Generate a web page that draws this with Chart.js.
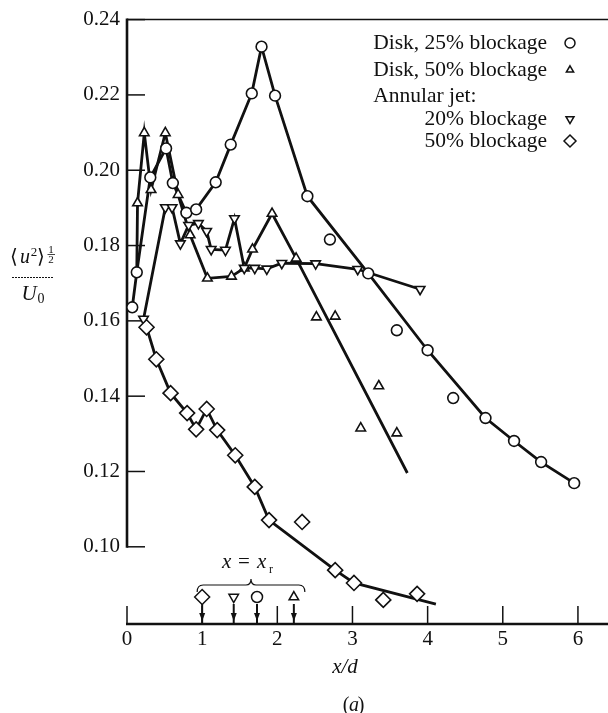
<!DOCTYPE html>
<html>
<head>
<meta charset="utf-8">
<script src="https://cdn.jsdelivr.net/npm/chart.js@4.4.1/dist/chart.umd.min.js"></script>
<style>
  html, body { margin: 0; padding: 0; background: #fff; }
  #graphe { display: block; }
</style>
</head>
<body>
<canvas id="graphe" width="608" height="713"></canvas>
<script>
// Disk, 25% blockage (circles)
const disk25X = [0.07, 0.13, 0.31, 0.52, 0.61, 0.79, 0.92, 1.18, 1.38, 1.66, 1.79, 1.97, 2.40, 2.70, 3.21, 3.59, 4.00, 4.34, 4.77, 5.15, 5.51, 5.95];
const disk25Y = [0.1636, 0.1729, 0.1981, 0.2058, 0.1966, 0.1887, 0.1896, 0.1968, 0.2068, 0.2204, 0.2328, 0.2198, 0.1931, 0.1816, 0.1726, 0.1575, 0.1522, 0.1395, 0.1342, 0.1281, 0.1225, 0.1169];
const disk25CurveX = [0.07, 0.13, 0.31, 0.52, 0.61, 0.79, 0.92, 1.18, 1.38, 1.66, 1.79, 1.97, 2.40, 3.21, 4.00, 4.77, 5.15, 5.51, 5.95];
const disk25CurveY = [0.1636, 0.1729, 0.1981, 0.2058, 0.1966, 0.1887, 0.1896, 0.1968, 0.2068, 0.2204, 0.2328, 0.2198, 0.1931, 0.1726, 0.1522, 0.1342, 0.1281, 0.1225, 0.1169];

// Disk, 50% blockage (triangles)
const disk50X = [0.14, 0.23, 0.32, 0.51, 0.68, 0.84, 1.07, 1.39, 1.56, 1.67, 1.93, 2.25, 2.52, 2.77, 3.11, 3.35, 3.59];
const disk50Y = [0.1913, 0.2099, 0.1948, 0.2099, 0.1935, 0.1828, 0.1713, 0.1718, 0.1740, 0.1790, 0.1885, 0.1766, 0.1610, 0.1612, 0.1315, 0.1427, 0.1302];
const disk50CurveX = [0.13, 0.14, 0.23, 0.32, 0.51, 0.68, 0.84, 1.07, 1.39, 1.56, 1.67, 1.93, 2.25, 3.73];
const disk50CurveY = [0.1729, 0.1913, 0.2099, 0.1948, 0.2099, 0.1935, 0.1828, 0.1713, 0.1718, 0.1740, 0.1790, 0.1885, 0.1766, 0.1196];

// Annular jet, 20% blockage (inverted triangles)
const jet20X = [0.22, 0.51, 0.60, 0.71, 0.82, 0.95, 1.06, 1.12, 1.31, 1.43, 1.56, 1.70, 1.86, 2.06, 2.51, 3.07, 3.90];
const jet20Y = [0.1605, 0.1901, 0.1901, 0.1805, 0.1854, 0.1859, 0.1838, 0.1790, 0.1788, 0.1872, 0.1740, 0.1740, 0.1738, 0.1753, 0.1752, 0.1737, 0.1684];

// Annular jet, 50% blockage (diamonds)
const jet50X = [0.26, 0.39, 0.58, 0.80, 0.92, 1.06, 1.20, 1.44, 1.70, 1.89, 2.33, 2.77, 3.02, 3.41, 3.86];
const jet50Y = [0.1583, 0.1498, 0.1408, 0.1355, 0.1312, 0.1366, 0.1310, 0.1243, 0.1159, 0.1071, 0.1066, 0.0938, 0.0904, 0.0859, 0.0875];
const jet50CurveX = [0.26, 0.39, 0.58, 0.80, 0.92, 1.06, 1.20, 1.44, 1.70, 1.89, 2.77, 3.02, 4.11];
const jet50CurveY = [0.1583, 0.1498, 0.1408, 0.1355, 0.1312, 0.1366, 0.1310, 0.1243, 0.1159, 0.1071, 0.0938, 0.0904, 0.0848];

// reattachment lengths x = x_r for each configuration
const reattachX = [1.00, 1.42, 1.73, 2.22];
const reattachStyle = ['rectRot', 'triangleDown', 'circle', 'triangle'];

const xTicks = [0, 1, 2, 3, 4, 5, 6];
const yTicks = [0.10, 0.12, 0.14, 0.16, 0.18, 0.20, 0.22, 0.24];

const ENCRE = '#111';
const serif = '"Liberation Serif", "DejaVu Serif", serif';

function points(xs, ys) {
  return xs.map((v, i) => ({ x: v, y: ys[i] }));
}

function marqueurs(xs, ys, style, taille) {
  const down = style === 'triangleDown';
  return {
    data: points(xs, ys),
    showLine: false,
    pointStyle: down ? 'triangle' : style,
    rotation: down ? 180 : 0,
    pointRadius: taille,
    pointBorderWidth: 1.6,
    pointBorderColor: ENCRE,
    pointBackgroundColor: '#fff',
    order: 1
  };
}

function courbe(xs, ys) {
  return {
    data: points(xs, ys),
    showLine: true,
    pointRadius: 0,
    borderColor: ENCRE,
    borderWidth: 2.8,
    tension: 0,
    order: 2
  };
}

function symbole(ctx, style, x, y, r) {
  const down = style === 'triangleDown';
  ctx.save();
  ctx.lineWidth = 1.5;
  ctx.strokeStyle = ENCRE;
  ctx.fillStyle = '#fff';
  Chart.helpers.drawPoint(ctx, {
    pointStyle: down ? 'triangle' : style,
    rotation: down ? 180 : 0,
    radius: r,
    borderWidth: 1.5
  }, x, y);
  ctx.restore();
}

function trait(ctx, x1, y1, x2, y2) {
  ctx.beginPath();
  ctx.moveTo(x1, y1);
  ctx.lineTo(x2, y2);
  ctx.stroke();
}

// axes drawn by hand: y axis stops at 0.10, ticks point inwards
const axes = {
  id: 'axes',
  beforeDatasetsDraw(chart) {
    const { ctx, chartArea: a, scales: { x, y } } = chart;
    ctx.save();
    ctx.strokeStyle = ENCRE;
    const yHaut = y.getPixelForValue(yTicks[yTicks.length - 1]);
    const yBas = y.getPixelForValue(yTicks[0]);

    ctx.lineWidth = 1.5;
    trait(ctx, a.left, yHaut, a.right, yHaut);

    ctx.lineWidth = 2.6;
    trait(ctx, a.left, yHaut - 1, a.left, yBas + 1);

    ctx.lineWidth = 1.5;
    yTicks.forEach(v => {
      const py = y.getPixelForValue(v);
      trait(ctx, a.left, py, a.left + 18, py);
    });

    ctx.lineWidth = 2.6;
    trait(ctx, a.left - 1, a.bottom, a.right, a.bottom);
    ctx.lineWidth = 1.5;
    xTicks.forEach(v => {
      const px = x.getPixelForValue(v);
      trait(ctx, px, a.bottom, px, a.bottom - 18);
    });
    ctx.restore();
  }
};

const legende = [
  { texte: 'Disk, 25% blockage', style: 'circle', r: 5 },
  { texte: 'Disk, 50% blockage', style: 'triangle', r: 4.2 },
  { texte: 'Annular jet:', style: null },
  { texte: '20% blockage', style: 'triangleDown', r: 4.6 },
  { texte: '50% blockage', style: 'rectRot', r: 6 }
];

const annotations = {
  id: 'annotations',
  afterDraw(chart) {
    const { ctx, chartArea: a, scales: { x } } = chart;
    ctx.save();
    ctx.fillStyle = ENCRE;
    ctx.strokeStyle = ENCRE;
    ctx.textBaseline = 'alphabetic';

    // legend block, top right
    ctx.font = `21.5px ${serif}`;
    const droite = 547;
    const gauche = droite - ctx.measureText(legende[0].texte).width;
    const lignes = [49, 76, 102, 125, 147];
    legende.forEach((item, i) => {
      if (item.style) {
        ctx.textAlign = 'right';
        ctx.fillText(item.texte, droite, lignes[i]);
        symbole(ctx, item.style, 570, lignes[i] - 6, item.r);
      } else {
        ctx.textAlign = 'left';
        ctx.fillText(item.texte, gauche, lignes[i]);
      }
    });

    // y axis title <u^2>^(1/2) / U0
    ctx.textAlign = 'center';
    ctx.font = `20px ${serif}`;
    ctx.fillText('\u27E8', 14, 263);
    ctx.fillText('\u27E9', 41, 263);
    ctx.font = `italic 20px ${serif}`;
    ctx.fillText('u', 25, 263);
    ctx.font = `13px ${serif}`;
    ctx.fillText('2', 34, 256);
    ctx.font = `11px ${serif}`;
    ctx.fillText('1', 51, 253);
    ctx.fillText('2', 51, 263);
    ctx.lineWidth = 0.8;
    trait(ctx, 47.5, 254.5, 55, 254.5);
    ctx.lineWidth = 1;
    ctx.setLineDash([2, 1]);
    trait(ctx, 12, 277.5, 54, 277.5);
    ctx.setLineDash([]);
    ctx.font = `italic 21px ${serif}`;
    ctx.fillText('U', 29, 300);
    ctx.font = `14px ${serif}`;
    ctx.fillText('0', 41, 303);

    // x axis title and panel letter
    ctx.font = `italic 21px ${serif}`;
    ctx.fillText('x/d', 345, 673);
    ctx.font = `20px ${serif}`;
    ctx.fillText('(', 346, 711);
    ctx.fillText(')', 361, 711);
    ctx.font = `italic 20px ${serif}`;
    ctx.fillText('a', 354, 711);

    // reattachment markers with arrows down to the axis
    const yMarque = a.bottom - 27;
    reattachX.forEach((v, i) => {
      const px = x.getPixelForValue(v);
      ctx.lineWidth = 2;
      trait(ctx, px, yMarque + 7, px, a.bottom);
      ctx.beginPath();
      ctx.moveTo(px - 3, a.bottom - 11);
      ctx.lineTo(px + 3, a.bottom - 11);
      ctx.lineTo(px, a.bottom - 3);
      ctx.closePath();
      ctx.fill();
      const r = reattachStyle[i] === 'rectRot' ? 7.5 : 5.5;
      symbole(ctx, reattachStyle[i], px, yMarque, r);
    });

    // brace grouping the x = x_r markers
    const bx1 = x.getPixelForValue(reattachX[0]) - 5;
    const bx2 = x.getPixelForValue(reattachX[reattachX.length - 1]) + 11;
    const bm = (bx1 + bx2) / 2;
    const by = a.bottom - 39;
    ctx.lineWidth = 1.2;
    ctx.beginPath();
    ctx.moveTo(bx1, by + 7);
    ctx.quadraticCurveTo(bx1, by, bx1 + 6, by);
    ctx.lineTo(bm - 5, by);
    ctx.quadraticCurveTo(bm, by, bm, by - 6);
    ctx.quadraticCurveTo(bm, by, bm + 5, by);
    ctx.lineTo(bx2 - 6, by);
    ctx.quadraticCurveTo(bx2, by, bx2, by + 7);
    ctx.stroke();

    // label x = x_r
    ctx.textAlign = 'left';
    ctx.font = `italic 21px ${serif}`;
    ctx.fillText('x', 222, 568);
    ctx.font = `21px ${serif}`;
    ctx.fillText('=', 238, 568);
    ctx.font = `italic 21px ${serif}`;
    ctx.fillText('x', 257, 568);
    ctx.font = `12px ${serif}`;
    ctx.fillText('r', 269, 573);
    ctx.restore();
  }
};

new Chart(document.getElementById('graphe'), {
  type: 'scatter',
  data: {
    datasets: [
      courbe(disk25CurveX, disk25CurveY),
      courbe(disk50CurveX, disk50CurveY),
      courbe(jet20X, jet20Y),
      courbe(jet50CurveX, jet50CurveY),
      marqueurs(jet50X, jet50Y, 'rectRot', 7.5),
      marqueurs(jet20X, jet20Y, 'triangleDown', 5.5),
      marqueurs(disk50X, disk50Y, 'triangle', 5.5),
      marqueurs(disk25X, disk25Y, 'circle', 5.4)
    ]
  },
  options: {
    responsive: false,
    animation: false,
    devicePixelRatio: 1,
    events: [],
    layout: { autoPadding: false, padding: { top: 19, right: 0, bottom: 0, left: 0 } },
    plugins: { legend: { display: false }, tooltip: { enabled: false } },
    scales: {
      x: {
        type: 'linear',
        min: 0,
        max: 6.4,
        afterBuildTicks: s => { s.ticks = xTicks.map(v => ({ value: v })); },
        afterFit: s => { s.height = 89; s.paddingLeft = 0; s.paddingRight = 0; },
        grid: { display: false, drawTicks: false },
        border: { display: false },
        ticks: { padding: 3, color: ENCRE, font: { family: serif, size: 21 }, maxRotation: 0 }
      },
      y: {
        type: 'linear',
        min: 0.0795,
        max: 0.24,
        afterBuildTicks: s => { s.ticks = yTicks.map(v => ({ value: v })); },
        afterFit: s => { s.width = 127; },
        grid: { display: false, drawTicks: false },
        border: { display: false },
        ticks: { padding: 7, color: ENCRE, font: { family: serif, size: 21 }, callback: v => v.toFixed(2) }
      }
    }
  },
  plugins: [axes, annotations]
});
</script>
</body>
</html>
